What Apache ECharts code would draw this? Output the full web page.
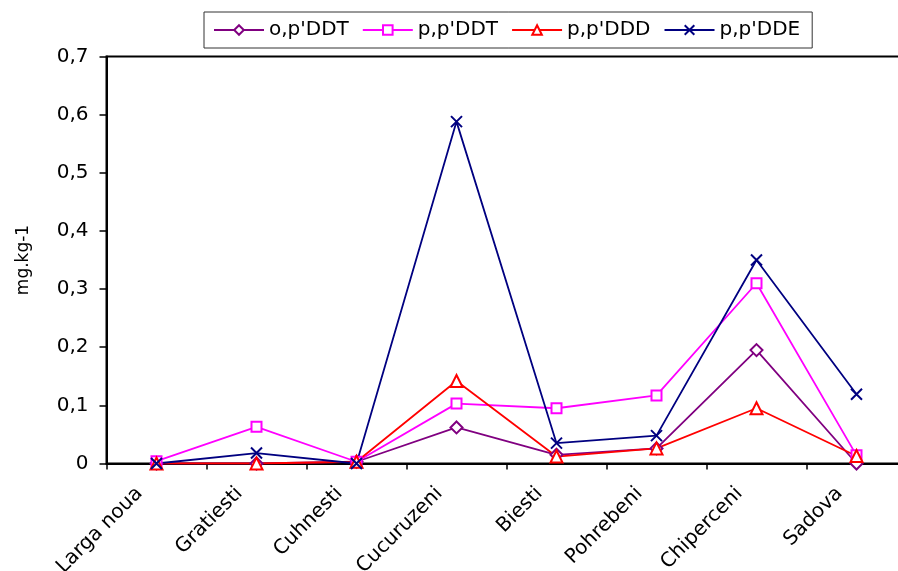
<!DOCTYPE html>
<html>
<head>
<meta charset="utf-8">
<script src="https://cdn.jsdelivr.net/npm/echarts@6/dist/echarts.min.js"></script>
<style>html,body{margin:0;padding:0;background:#fff}#c{width:898px;height:571px}</style>
</head>
<body>
<div id="c"></div>
<script>
var categories = ['Larga noua', 'Gratiesti', 'Cuhnesti', 'Cucuruzeni', 'Biesti', 'Pohrebeni', 'Chiperceni', 'Sadova'];
var opDDT = [0, 0, 0.003, 0.062, 0.015, 0.026, 0.195, 0];
var ppDDT = [0.004, 0.063, 0.003, 0.103, 0.095, 0.117, 0.31, 0.014];
var ppDDD = [0, 0, 0.003, 0.142, 0.012, 0.026, 0.095, 0.013];
var ppDDE = [0, 0.018, 0, 0.588, 0.035, 0.048, 0.35, 0.119];
var seriesNames = ["o,p'DDT", "p,p'DDT", "p,p'DDD", "p,p'DDE"];
var yTicks = { min: 0, max: 0.7, interval: 0.1 };

var FONT = 'DejaVu Sans';
var chart = echarts.init(document.getElementById('c'), null, { renderer: 'canvas' });
var xPath = 'path://M0,0L10,10M10,0L0,10';

function mk(name, data, color, symbol, size) {
  var isPath = symbol.indexOf('path') === 0;
  return {
    name: name, type: 'line', data: data,
    symbol: symbol, symbolSize: size,
    lineStyle: { color: color, width: 1.8 },
    itemStyle: { color: color, borderColor: color, borderWidth: isPath ? 2 : 1.6 },
    emphasis: { disabled: true },
    animation: false
  };
}

chart.setOption({
  animation: false,
  backgroundColor: '#fff',
  textStyle: { fontFamily: FONT },
  legend: {
    left: 204, top: 12,
    itemWidth: 50, itemHeight: 12, itemGap: 13,
    padding: [8, 12, 8, 9],
    borderColor: '#333', borderWidth: 1,
    textStyle: { fontFamily: FONT, fontSize: 20, color: '#000' },
    data: seriesNames
  },
  grid: {
    left: 106.5, top: 56.5, width: 800, height: 407,
    show: true, borderColor: '#000', borderWidth: 2, backgroundColor: 'transparent',
    containLabel: false, outerBoundsMode: 'none'
  },
  xAxis: {
    type: 'category', data: categories, boundaryGap: true,
    axisLine: { lineStyle: { color: '#000', width: 2 } },
    axisTick: { show: true, length: 6, lineStyle: { color: '#000', width: 1.5 } },
    axisLabel: { rotate: 45, margin: 10, fontFamily: FONT, fontSize: 20, color: '#000', interval: 0, padding: [0, 24, 0, 0] },
    splitLine: { show: false }
  },
  yAxis: {
    type: 'value', min: yTicks.min, max: yTicks.max, interval: yTicks.interval,
    name: 'mg.kg-1', nameLocation: 'middle', nameGap: 74,
    nameTextStyle: { fontFamily: FONT, fontSize: 17, color: '#000' },
    axisLine: { show: true, lineStyle: { color: '#000', width: 2 } },
    axisTick: { show: true, length: 7, lineStyle: { color: '#000', width: 1.5 } },
    axisLabel: { margin: 18, fontFamily: FONT, fontSize: 20, color: '#000',
      formatter: function (v) { return v === 0 ? '0' : v.toFixed(1).replace('.', ','); } },
    splitLine: { show: false }
  },
  series: [
    mk(seriesNames[0], opDDT, '#800080', 'emptyDiamond', 12),
    mk(seriesNames[1], ppDDT, '#FF00FF', 'emptyRect', 10),
    mk(seriesNames[2], ppDDD, '#FF0000', 'emptyTriangle', 12),
    mk(seriesNames[3], ppDDE, '#000080', xPath, 11)
  ]
});
</script>
</body>
</html>
